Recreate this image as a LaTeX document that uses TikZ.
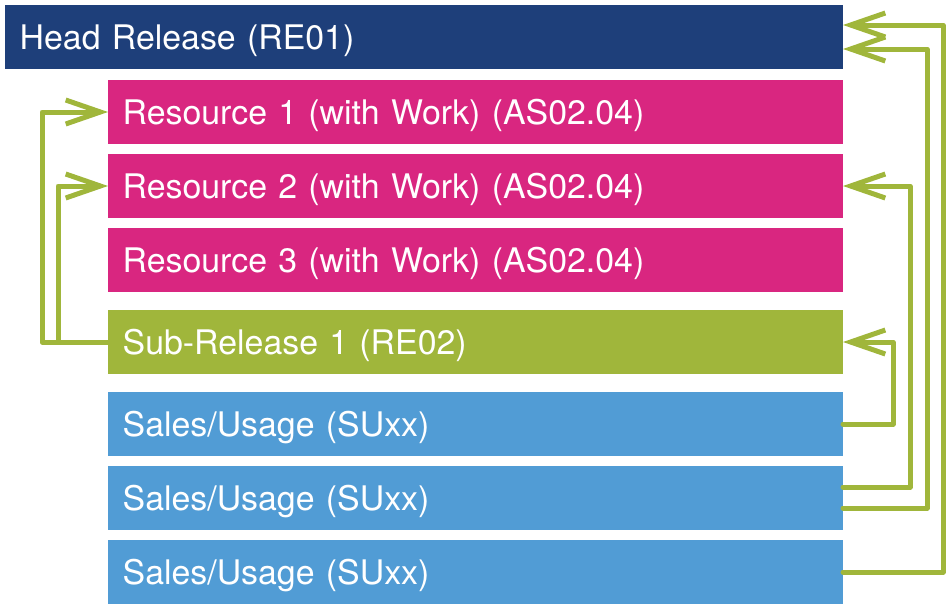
\documentclass[tikz,border=0pt]{standalone}
\usepackage{fontspec}
\setmainfont{TeX Gyre Heros}
\usetikzlibrary{positioning, arrows.meta}
\definecolor{headblue}{HTML}{1E3F7A}
\definecolor{resmagenta}{HTML}{D92680}
\definecolor{relgreen}{HTML}{A0B63B}
\definecolor{salesblue}{HTML}{519CD5}
\tikzset{
    block/.style={draw=none, text=white, minimum height=48pt, inner xsep=11pt, outer sep=0pt,
        text height=18pt, text depth=0pt,
        text width=529.25pt, align=left, font=\fontsize{25.4}{30}\selectfont},
    link/.style={draw=relgreen, line width=3.75pt, line cap=round, line join=round,
        -{Straight Barb[length=26pt, width=18pt]}},
}

\begin{document}
\begin{tikzpicture}[x=0.75pt, y=-0.75pt]
    \useasboundingbox (0,0) rectangle (949,608);

    \node[block, fill=headblue, text width=606.5pt, anchor=north west] (head) at (5,5) {Head Release (RE01)};
    \node[block, fill=resmagenta, below=8.25pt of head.south east, anchor=north east] (r1) {Resource 1 (with Work) (AS02.04)};
    \node[block, fill=resmagenta, below=7.5pt of r1] (r2) {Resource 2 (with Work) (AS02.04)};
    \node[block, fill=resmagenta, below=7.5pt of r2] (r3) {Resource 3 (with Work) (AS02.04)};
    \node[block, fill=relgreen, below=13.5pt of r3] (sub) {Sub-Release 1 (RE02)};
    \node[block, fill=salesblue, below=13.5pt of sub] (s1) {Sales/Usage (SUxx)};
    \node[block, fill=salesblue, below=7.5pt of s1] (s2) {Sales/Usage (SUxx)};
    \node[block, fill=salesblue, below=7.5pt of s2] (s3) {Sales/Usage (SUxx)};

    % right side
    \draw[link] (s1.east) -- ++(50,0) |- (sub.east);
    \draw[link] ([yshift=8.25pt]s2.east) -- ++(67,0) |- (r2.east);
    \draw[link] ([yshift=-7.5pt]s2.east) -- ++(84,0) |- ([yshift=-9pt]head.east);
    \draw[link] (s3.east) -- ++(100,0) |- ([yshift=9pt]head.east);

    % left side
    \draw[link] (sub.west) -- ++(-66,0) |- (r1.west);
    \draw[link] (sub.west) -- ++(-50,0) |- (r2.west);
\end{tikzpicture}
\end{document}
